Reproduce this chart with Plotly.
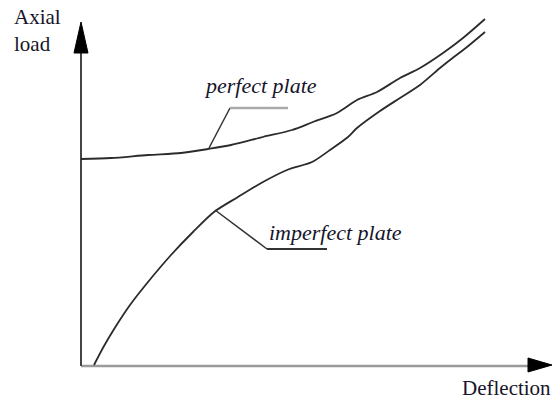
import plotly.graph_objects as go

# Data (arbitrary units: deflection, axial load)
perfect_x = [0, 30, 67, 100, 127, 150, 182, 211, 232, 256, 276, 296, 319, 339, 362, 382, 404]
perfect_y = [207, 208, 211, 213, 217, 221, 229, 236, 244, 253, 266, 274, 288, 298, 313, 328, 347]

imperfect_x = [13, 23, 35, 49, 67, 90, 112, 133, 157, 182, 206, 231, 249, 267, 276, 299, 319, 339, 359, 369, 386, 404]
imperfect_y = [1, 20, 40, 61, 84, 111, 134, 154, 169, 184, 196, 204, 216, 229, 238, 255, 268, 281, 298, 306, 319, 334]

x_label = "Deflection"
y_label = "Axial<br>load"
perfect_label = "perfect plate"
imperfect_label = "imperfect plate"

X_MAX = 471
Y_MAX = 344

fig = go.Figure()

curve_color = "#2b2b2b"
for xs, ys in [(perfect_x, perfect_y), (imperfect_x, imperfect_y)]:
    fig.add_trace(go.Scatter(x=xs, y=ys, mode="lines",
                             line=dict(color=curve_color, width=1.8, shape="spline", smoothing=0.8),
                             hoverinfo="skip", showlegend=False))

shapes = []
# axes
shapes.append(dict(type="line", x0=0, y0=0, x1=X_MAX - 20, y1=0,
                   line=dict(color="#9a9a9a", width=2.5), layer="below"))
shapes.append(dict(type="line", x0=0, y0=0, x1=0, y1=Y_MAX - 25,
                   line=dict(color="#444444", width=2), layer="below"))
# arrowheads
shapes.append(dict(type="path", path=f"M -7 313 L 0 {Y_MAX} L 7 313 Z",
                   fillcolor="black", line=dict(color="black", width=1)))
shapes.append(dict(type="path", path=f"M 447 -6 L {X_MAX} 1 L 447 8 Z",
                   fillcolor="black", line=dict(color="black", width=1)))
# leader lines
shapes.append(dict(type="line", x0=128, y0=218, x1=149, y1=258,
                   line=dict(color="#333333", width=1.5)))
shapes.append(dict(type="line", x0=149, y0=258, x1=207, y1=258,
                   line=dict(color="#aaaaaa", width=2.5)))
shapes.append(dict(type="line", x0=134, y0=156, x1=186, y1=117,
                   line=dict(color="#333333", width=1.5)))
shapes.append(dict(type="line", x0=186, y0=117, x1=246, y1=117,
                   line=dict(color="#333333", width=1.8)))

text_color = "#15152a"
annotations = [
    dict(x=-69, y=363, xref="x", yref="y", text=y_label, showarrow=False,
         xanchor="left", yanchor="top", align="left",
         font=dict(family="Liberation Serif", size=21, color=text_color)),
    dict(x=X_MAX, y=-22, xref="x", yref="y", text=x_label, showarrow=False,
         xanchor="right", yanchor="middle", borderpad=0,
         font=dict(family="Liberation Serif", size=21, color=text_color)),
    dict(x=121, y=281, xref="x", yref="y", text=f"<i>{perfect_label}</i>", showarrow=False,
         xanchor="left", yanchor="middle",
         font=dict(family="Liberation Serif", size=22, color=text_color)),
    dict(x=186, y=134, xref="x", yref="y", text=f"<i>{imperfect_label}</i>", showarrow=False,
         xanchor="left", yanchor="middle",
         font=dict(family="Liberation Serif", size=22, color=text_color)),
]

fig.update_layout(
    width=553, height=400,
    margin=dict(l=0, r=0, t=0, b=0),
    paper_bgcolor="white", plot_bgcolor="white",
    xaxis=dict(range=[-81, 472], visible=False, fixedrange=True),
    yaxis=dict(range=[-34, 366], visible=False, fixedrange=True),
    shapes=shapes, annotations=annotations,
    showlegend=False,
)

fig.write_html("out.html", config={"displayModeBar": False},
               post_script="document.body.style.margin='0';document.body.style.overflow='hidden';")
